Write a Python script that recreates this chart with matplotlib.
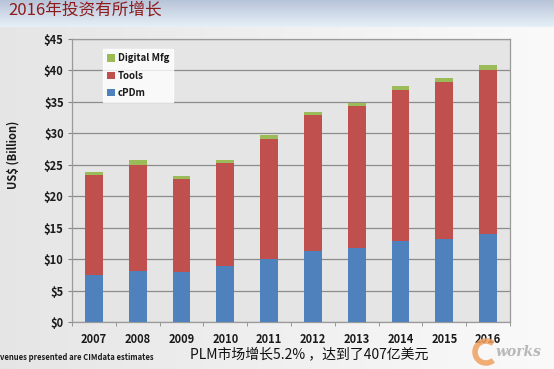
import matplotlib
matplotlib.use("Agg")
import matplotlib.pyplot as plt
from matplotlib.patches import Arc
import numpy as np

plt.rcParams['font.family'] = ['Noto Sans CJK SC', 'DejaVu Sans']

years = ['2007', '2008', '2009', '2010', '2011', '2012', '2013', '2014', '2015', '2016']
cpdm = [7.5, 8.1, 7.9, 8.9, 10.0, 11.3, 11.8, 12.9, 13.2, 14.0]
tools = [15.9, 16.9, 14.8, 16.4, 19.1, 21.6, 22.5, 24.0, 24.9, 26.1]
digital = [0.5, 0.7, 0.5, 0.4, 0.6, 0.5, 0.6, 0.7, 0.7, 0.7]
ytick_vals = [0, 5, 10, 15, 20, 25, 30, 35, 40, 45]
ytick_labels = ['$' + str(v) for v in ytick_vals]

W, H = 554, 369
fig = plt.figure(figsize=(W / 100, H / 100), dpi=100)
fig.patch.set_facecolor('#f3f3f3')

# background gradient (whole figure) and top banner
bg = fig.add_axes([0, 0, 1, 1], zorder=-10)
bg.set_axis_off()
grad = np.linspace(0, 1, 256)[None, :]
bg.imshow(np.dstack([0.90 + 0.08 * grad, 0.90 + 0.08 * grad, 0.90 + 0.08 * grad]),
          extent=[0, 1, 0, 1], aspect='auto')
ban = fig.add_axes([0, 1 - 27 / H, 1, 27 / H], zorder=-9)
ban.set_axis_off()
g = np.linspace(0, 1, 64)[:, None]
top = np.array([0.72, 0.77, 0.85])
bot = np.array([0.90, 0.94, 0.97])
img = (top[None, None, :] * (1 - g[:, :, None]) + bot[None, None, :] * g[:, :, None])
ban.imshow(np.repeat(img, 4, axis=1), extent=[0, 1, 0, 1], aspect='auto')

fig.text(8 / W, 1 - 10 / H, '2016年投资有所增长', color='#8e1b1b', fontsize=12,
         va='center', ha='left', style='italic')

ax = fig.add_axes([72 / W, 1 - 322 / H, (510 - 72) / W, (322 - 39) / H])
ax.set_facecolor('#e5e5e5')
x = np.arange(len(years))
w = 0.41
ax.bar(x, cpdm, w, color='#4f81bd', label='cPDm', zorder=3)
ax.bar(x, tools, w, bottom=cpdm, color='#c0504d', label='Tools', zorder=3)
bot2 = [a + b for a, b in zip(cpdm, tools)]
ax.bar(x, digital, w, bottom=bot2, color='#9bbb59', label='Digital Mfg', zorder=3)

ax.set_xlim(-0.5, len(years) - 0.5)
ax.set_ylim(0, 45)
ax.set_yticks(ytick_vals)
ax.set_yticklabels(ytick_labels, fontsize=8, fontweight='bold', color='#1a1a1a')
ax.set_xticks(x)
ax.set_xticklabels(years, fontsize=8, fontweight='bold', color='#1a1a1a')
ax.tick_params(axis='x', length=0, pad=8)
ax.set_xticks(np.arange(-0.5, len(years), 1), minor=True)
ax.tick_params(axis='x', which='minor', length=3, color='#888888')
ax.tick_params(axis='y', length=3, color='#888888', pad=3)
ax.grid(axis='y', color='#8c8c8c', linewidth=0.9, zorder=1)
for s in ax.spines.values():
    s.set_color('#9a9a9a')
    s.set_linewidth(0.9)

handles, labels = ax.get_legend_handles_labels()
leg = ax.legend(handles[::-1], labels[::-1], loc='upper left',
                bbox_to_anchor=((103 - 72) / (510 - 72), 1 - (49 - 39) / (322 - 39)),
                frameon=True, fancybox=False, fontsize=7, handlelength=0.75,
                handleheight=0.75, handletextpad=0.3, labelspacing=0.75,
                borderpad=0.45, borderaxespad=0)
leg.get_frame().set_facecolor('white')
leg.get_frame().set_edgecolor('white')
for t in leg.get_texts():
    t.set_fontweight('bold')
    t.set_color('#1a1a1a')

fig.text(13 / W, 1 - 155 / H, 'US$ (Billion)', rotation=90, fontsize=8,
         fontweight='bold', va='center', ha='center', color='#1a1a1a')

fig.text(0, 1 - 357 / H, 'venues presented are CIMdata estimates', fontsize=5.5,
         color='#1a1a1a', va='center', ha='left', fontweight='bold')
fig.text(190 / W, 1 - 354 / H, 'PLM市场增长5.2% ，达到了407亿美元', fontsize=10,
         color='#111111', va='center', ha='left')

# eworks watermark
fig.patches.append(Arc((486 / W, 1 - 352 / H), 22 / W, 22 / H, theta1=60, theta2=300,
                       transform=fig.transFigure, color='#f0a060', linewidth=4,
                       alpha=0.85))
fig.text(496 / W, 1 - 352 / H, 'works', fontsize=10, color='#b8b8b8',
         style='italic', fontweight='bold', va='center', ha='left', family='DejaVu Serif')

fig.savefig('out.png', dpi=100, facecolor=fig.get_facecolor())
